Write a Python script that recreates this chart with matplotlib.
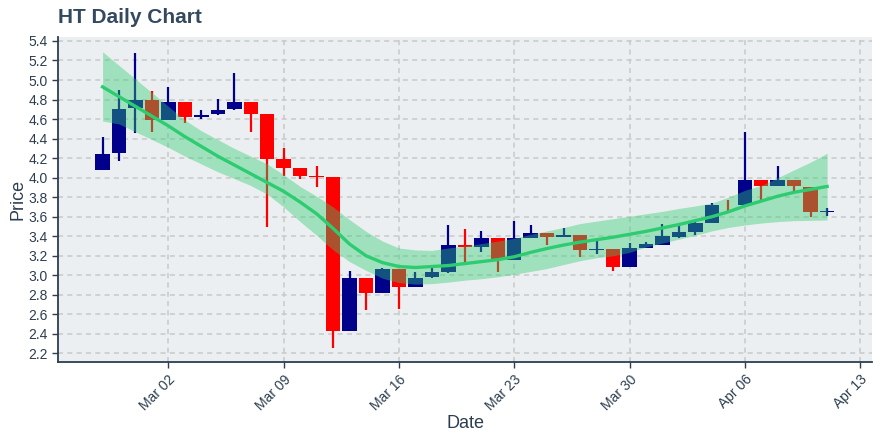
# 用于数据处理
import numpy as np
import pandas as pd
# 导入画图库
import matplotlib
matplotlib.use('Agg')
import matplotlib.pyplot as plt
import matplotlib.dates as mdates

plt.rcParams['font.family'] = ['Liberation Sans', 'DejaVu Sans']

# 日期
dates = pd.date_range('2020-02-27', '2020-04-11', freq='D')

# K线数据（开、高、低、收）
open_ = [4.08, 4.25, 4.71, 4.80, 4.59, 4.77, 4.62, 4.65, 4.70, 4.77,
         4.65, 4.19, 4.10, 4.02, 4.01, 2.43, 2.97, 2.82, 3.06, 2.88,
         2.98, 3.03, 3.31, 3.29, 3.38, 3.16, 3.38, 3.43, 3.39, 3.41,
         3.26, 3.27, 3.09, 3.28, 3.31, 3.39, 3.44, 3.54, 3.72, 3.72,
         3.98, 3.91, 3.98, 3.90, 3.65]
high = [4.42, 4.90, 5.28, 4.89, 4.93, 4.77, 4.69, 4.81, 5.07, 4.77,
        4.65, 4.30, 4.10, 4.12, 4.01, 3.04, 2.97, 3.07, 3.06, 3.03,
        3.08, 3.52, 3.47, 3.45, 3.38, 3.56, 3.52, 3.43, 3.48, 3.41,
        3.36, 3.27, 3.33, 3.34, 3.53, 3.52, 3.57, 3.74, 3.77, 4.47,
        3.98, 4.12, 3.98, 3.90, 3.69]
low = [4.08, 4.17, 4.46, 4.47, 4.59, 4.56, 4.60, 4.64, 4.69, 4.47,
       3.49, 4.02, 3.99, 3.90, 2.26, 2.43, 2.64, 2.82, 2.65, 2.88,
       2.97, 3.02, 3.13, 3.24, 3.03, 3.16, 3.38, 3.31, 3.39, 3.19,
       3.22, 3.04, 3.09, 3.28, 3.31, 3.38, 3.41, 3.54, 3.65, 3.72,
       3.76, 3.91, 3.86, 3.60, 3.61]
close = [4.24, 4.70, 4.80, 4.59, 4.77, 4.62, 4.64, 4.69, 4.77, 4.65,
         4.19, 4.10, 4.02, 4.01, 2.43, 2.97, 2.82, 3.06, 2.88, 2.97,
         3.03, 3.31, 3.29, 3.38, 3.16, 3.38, 3.43, 3.39, 3.41, 3.26,
         3.27, 3.09, 3.28, 3.32, 3.40, 3.44, 3.54, 3.72, 3.72, 3.98,
         3.91, 3.98, 3.91, 3.65, 3.66]

# 趋势线及上下轨
trend = [4.93, 4.83, 4.73, 4.63, 4.53, 4.42, 4.32, 4.22, 4.13, 4.04,
         3.95, 3.86, 3.75, 3.63, 3.48, 3.32, 3.20, 3.13, 3.09, 3.08,
         3.09, 3.10, 3.12, 3.14, 3.16, 3.19, 3.235, 3.275, 3.31, 3.34,
         3.365, 3.39, 3.42, 3.45, 3.485, 3.52, 3.56, 3.60, 3.65, 3.71,
         3.76, 3.81, 3.85, 3.88, 3.91]
upper = [5.29, 5.15, 5.01, 4.87, 4.73, 4.59, 4.48, 4.39, 4.30, 4.22,
         4.14, 4.03, 3.91, 3.81, 3.70, 3.57, 3.45, 3.35, 3.28, 3.26,
         3.255, 3.28, 3.30, 3.325, 3.35, 3.38, 3.42, 3.455, 3.49, 3.53,
         3.555, 3.58, 3.605, 3.63, 3.655, 3.685, 3.71, 3.74, 3.80, 3.87,
         3.92, 4.00, 4.08, 4.16, 4.25]
lower = [4.58, 4.55, 4.47, 4.39, 4.31, 4.22, 4.14, 4.06, 3.99, 3.92,
         3.83, 3.70, 3.55, 3.41, 3.26, 3.14, 3.05, 2.97, 2.925, 2.91,
         2.915, 2.93, 2.95, 2.965, 2.985, 3.01, 3.04, 3.07, 3.11, 3.15,
         3.18, 3.20, 3.235, 3.29, 3.33, 3.37, 3.41, 3.455, 3.49, 3.515,
         3.535, 3.55, 3.56, 3.563, 3.566]

df = pd.DataFrame({'Open': open_, 'High': high, 'Low': low, 'Close': close,
                   'trend': trend, 'upper': upper, 'lower': lower}, index=dates)

text_color = '#2c3e50'
fig = plt.figure(figsize=(8.8, 4.4), dpi=100)
ax = fig.add_axes([0.066, 0.177, 0.925, 0.739])
ax.set_facecolor('#eceff1')

# 画K线
x = mdates.date2num(df.index.to_pydatetime())
up = df['Close'] > df['Open']
colors = np.where(up, '#00008b', '#ff0000')
ax.vlines(x, df['Low'], df['High'], colors=colors, linewidth=1.6, zorder=2)
body_bottom = np.minimum(df['Open'], df['Close'])
body_height = (df['Close'] - df['Open']).abs()
ax.bar(x, body_height, bottom=body_bottom, width=0.88, color=colors,
       linewidth=0, zorder=3)

# 趋势带和趋势线
ax.fill_between(x, df['lower'], df['upper'], color='#2ecc71', alpha=0.4,
                linewidth=0, zorder=4)
ax.plot(x, df['trend'], color='#2ecc71', linewidth=2.4, zorder=5)

# 坐标轴设置
ax.set_xlim(mdates.date2num(pd.Timestamp('2020-03-02')) - 6.7,
            mdates.date2num(pd.Timestamp('2020-03-02')) + 42.73)
ax.set_ylim(2.111, 5.441)
ax.set_yticks(np.arange(2.2, 5.41, 0.2))
ax.yaxis.set_major_formatter(plt.FormatStrFormatter('%.1f'))
ax.xaxis.set_major_locator(mdates.WeekdayLocator(byweekday=mdates.MO))
ax.xaxis.set_major_formatter(mdates.DateFormatter('%b %d'))
plt.setp(ax.get_xticklabels(), rotation=45, ha='right', rotation_mode='anchor')

ax.grid(True, color='#c8c8c8', linestyle=(0, (3.3, 2.8)), linewidth=1.1)
ax.set_axisbelow(True)
for s in ['top', 'right']:
    ax.spines[s].set_visible(False)
for s in ['left', 'bottom']:
    ax.spines[s].set_color(text_color)
    ax.spines[s].set_linewidth(1.3)
ax.tick_params(colors=text_color, labelsize=10, length=4, width=1)

ax.set_xlabel('Date', fontsize=13, color=text_color, labelpad=1)
ax.set_ylabel('Price', fontsize=13, color=text_color, labelpad=1)
fig.text(0.066, 0.948, 'HT Daily Chart', fontsize=15, fontweight='bold',
         color='#34495e', va='baseline', ha='left')

plt.savefig('out.png', dpi=100)
